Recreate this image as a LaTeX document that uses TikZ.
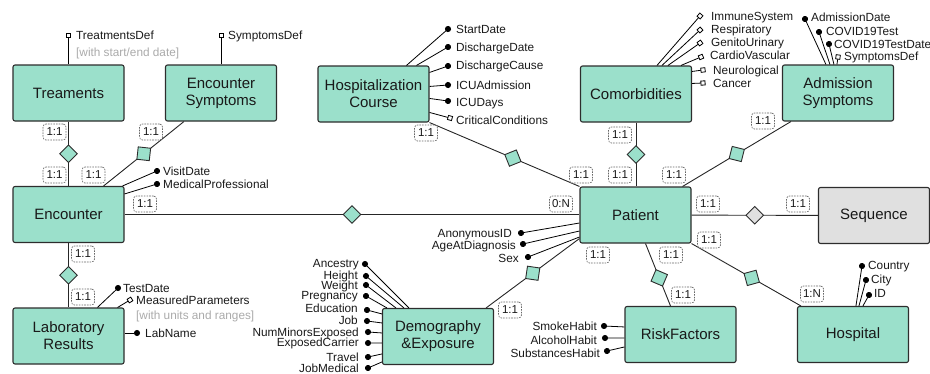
\documentclass[tikz,border=0pt]{standalone}
\usepackage{fontspec}
\setmainfont{Liberation Sans}
\usetikzlibrary{shapes.geometric,arrows.meta,calc}
\definecolor{tealfill}{RGB}{155,224,203}
\definecolor{seqgray}{RGB}{224,224,224}
\definecolor{edgec}{RGB}{45,45,45}
\definecolor{notegray}{RGB}{170,170,170}
\begin{document}
\begin{tikzpicture}[x=1pt,y=-1pt,
  entity/.style={draw=edgec, line width=1.1pt, fill=tealfill, rounded corners=2pt,
    minimum width=111pt, minimum height=56pt, align=center,
    font=\fontsize{15}{17}\selectfont, text=black!90, inner sep=0pt},
  rel/.style={diamond, aspect=1, draw=edgec, line width=0.9pt, fill=tealfill,
    minimum width=18pt, minimum height=18pt, inner sep=0pt, sloped},
  card/.style={draw=black!60, line width=0.65pt, dash pattern=on 1.6pt off 1.1pt, rounded corners=3pt,
    fill=white, font=\fontsize{11.5}{13}\selectfont, minimum width=23pt,
    minimum height=16pt, inner sep=1pt, text=black!90},
  conn/.style={draw=black!85, line width=0.9pt},
  attr/.style={font=\fontsize{11.8}{13}\selectfont, inner sep=0pt, text height=8.5pt,
    text depth=0pt, text=black!90},
  note/.style={attr, text=notegray},
  dotline/.style={draw=black, line width=0.8pt, -{Circle[length=6pt]}, shorten >=-3pt},
  sqline/.style={draw=black, line width=0.8pt, -{Square[length=5pt,width=5pt,fill=white]}, shorten >=-2.5pt},
]
\useasboundingbox (0,0) rectangle (930,373);

% ---------------- entities
\node[entity] (treat) at (68.5,93) {Treaments};
\node[entity] (esym) at (221,93) {Encounter\\Symptoms};
\node[entity] (enc) at (68.5,214.5) {Encounter};
\node[entity] (lab) at (68.5,336) {Laboratory\\Results};
\node[entity] (hc) at (373.5,94) {Hospitalization\\Course};
\node[entity] (com) at (636,94) {Comorbidities};
\node[entity] (adm) at (838,93) {Admission\\Symptoms};
\node[entity] (pat) at (635.5,215) {Patient};
\node[entity, fill=seqgray] (seq) at (874,215.5) {Sequence};
\node[entity] (demo) at (438,336.5) {Demography\\\&Exposure};
\node[entity] (rf) at (680.5,334.5) {RiskFactors};
\node[entity] (hosp) at (853,334.5) {Hospital};

% ---------------- relationships
\draw[conn] (treat) -- node[rel] (r1) {} (enc);
\draw[conn] ($(esym.south west)+(19,0)$) -- node[rel] (r2) {} ($(enc.north east)+(-21,0)$);
\draw[conn] (enc.east) -- node[rel] (r3) {} (enc.east -| pat.west);
\draw[conn] (enc) -- node[rel] (r4) {} (lab);
\draw[conn] (hc.south east) -- node[rel,pos=0.556] (r5) {} (pat.north west);
\draw[conn] (com.south) -- node[rel] (r6) {} (com.south |- pat.north);
\draw[conn] ($(adm.south west)+(9,0)$) -- node[rel] (r7) {} ($(pat.north east)+(-9,0)$);
\draw[conn] (pat) -- node[rel, fill=seqgray] (r8) {} (seq);
\draw[conn] ($(pat.south)+(10,0)$) -- node[rel,pos=0.55] (r9) {} ($(rf.north)+(-10,0)$);
\draw[conn] (pat.south east) -- node[rel,pos=0.55] (r10) {} ($(hosp.north west)+(4,0)$);
\draw[conn] ($(pat.south west)+(0,-5)$) -- node[rel,pos=0.5] (r11) {} ($(demo.north east)+(-8,0)$);

% ---------------- cardinalities
\node[card] (c1) at (54.5,132) {1:1};
\node[card] (c2) at (54.5,175) {1:1};
\node[card] (c3) at (93.5,175) {1:1};
\node[card] (c4) at (151,132) {1:1};
\node[card] (c5) at (145,204) {1:1};
\node[card] (c6) at (561,204) {0:N};
\node[card] (c7) at (83,254) {1:1};
\node[card] (c8) at (83,297) {1:1};
\node[card] (c9) at (426,133) {1:1};
\node[card] (c10) at (581,175) {1:1};
\node[card] (c11) at (620,135) {1:1};
\node[card] (c12) at (620,175) {1:1};
\node[card] (c13) at (674,175) {1:1};
\node[card] (c14) at (763,121) {1:1};
\node[card] (c15) at (708,204) {1:1};
\node[card] (c16) at (798,204) {1:1};
\node[card] (c17) at (709,240) {1:1};
\node[card] (c18) at (812,294) {1:N};
\node[card] (c19) at (671,255) {1:1};
\node[card] (c20) at (683,295) {1:1};
\node[card] (c21) at (598,255) {1:1};
\node[card] (c22) at (510,310) {1:1};

% ---------------- attributes: Treaments
\coordinate (mTD) at (68.5,35);
\draw[sqline] (treat.north) -- (mTD);
\node[attr, anchor=west] (aTD) at (76,35) {TreatmentsDef};
\node[note, anchor=west] (nTD) at (76,52) {[with start/end date]};
% Encounter Symptoms
\coordinate (mSD) at (221,35);
\draw[sqline] (esym.north) -- (mSD);
\node[attr, anchor=west] (aSD) at (228,35) {SymptomsDef};
% Encounter
\coordinate (mVD) at (157,171);
\draw[dotline] ($(enc.north east)+(-2,0)$) -- (mVD);
\node[attr, anchor=west] (aVD) at (163,171) {VisitDate};
\coordinate (mMP) at (157,184);
\draw[dotline] ($(enc.north east)+(0,8)$) -- (mMP);
\node[attr, anchor=west] (aMP) at (163,184) {MedicalProfessional};
% Laboratory
\coordinate (mTDate) at (118,288);
\draw[dotline] ($(lab.north west)+(85,0)$) -- (mTDate);
\node[attr, anchor=west] (aTDate) at (123,288) {TestDate};
\coordinate (mMPar) at (130,300);
\draw[sqline] ($(lab.north east)+(-7,0)$) -- (mMPar);
\node[attr, anchor=west] (aMPar) at (136,300) {MeasuredParameters};
\node[note, anchor=west] (nMPar) at (136,315) {[with units and ranges]};
\coordinate (mLN) at (137,333);
\draw[dotline] ($(lab.east)+(0,-3)$) -- (mLN);
\node[attr, anchor=west] (aLN) at (145,333) {LabName};
% Hospitalization Course
\coordinate (mH1) at (448,29);
\draw[dotline] ($(hc.north west)+(89,0)$) -- (mH1);
\node[attr, anchor=west] (aH1) at (456,29) {StartDate};
\coordinate (mH2) at (448,47);
\draw[dotline] ($(hc.north west)+(99,0)$) -- (mH2);
\node[attr, anchor=west] (aH2) at (456,47) {DischargeDate};
\coordinate (mH3) at (448,66);
\draw[dotline] ($(hc.north east)+(0,7)$) -- (mH3);
\node[attr, anchor=west] (aH3) at (456,65) {DischargeCause};
\coordinate (mH4) at (448,85);
\draw[dotline] ($(hc.north east)+(0,21)$) -- (mH4);
\node[attr, anchor=west] (aH4) at (456,85) {ICUAdmission};
\coordinate (mH5) at (448,101);
\draw[dotline] ($(hc.north east)+(0,33)$) -- (mH5);
\node[attr, anchor=west] (aH5) at (456,102) {ICUDays};
\coordinate (mH6) at (450,118);
\draw[sqline] ($(hc.north east)+(0,47)$) -- (mH6);
\node[attr, anchor=west] (aH6) at (456,120) {CriticalConditions};
% Comorbidities
\coordinate (mC1) at (700,16);
\draw[sqline] ($(com.north west)+(77,0)$) -- (mC1);
\node[attr, anchor=west] (aC1) at (711,16) {ImmuneSystem};
\coordinate (mC2) at (700,30);
\draw[sqline] ($(com.north west)+(82,0)$) -- (mC2);
\node[attr, anchor=west] (aC2) at (711,29) {Respiratory};
\coordinate (mC3) at (700,43);
\draw[sqline] ($(com.north west)+(88,0)$) -- (mC3);
\node[attr, anchor=west] (aC3) at (711,42) {GenitoUrinary};
\coordinate (mC4) at (701,57);
\draw[sqline] ($(com.north west)+(101,0)$) -- (mC4);
\node[attr, anchor=west] (aC4) at (710,55) {CardioVascular};
\coordinate (mC5) at (703,70);
\draw[sqline] ($(com.north east)+(0,6)$) -- (mC5);
\node[attr, anchor=west] (aC5) at (713,70) {Neurological};
\coordinate (mC6) at (703,83);
\draw[sqline] ($(com.north east)+(0,18)$) -- (mC6);
\node[attr, anchor=west] (aC6) at (713,83) {Cancer};
% Admission Symptoms
\coordinate (mA1) at (805,19);
\draw[dotline] ($(adm.north west)+(44,0)$) -- (mA1);
\node[attr, anchor=west] (aA1) at (811,17) {AdmissionDate};
\coordinate (mA2) at (819,32);
\draw[dotline] ($(adm.north west)+(48,0)$) -- (mA2);
\node[attr, anchor=west] (aA2) at (826,31) {COVID19Test};
\coordinate (mA3) at (829,44);
\draw[dotline] ($(adm.north west)+(52,0)$) -- (mA3);
\node[attr, anchor=west] (aA3) at (834,44) {COVID19TestDate};
\coordinate (mA4) at (838,57);
\draw[sqline] ($(adm.north west)+(55,0)$) -- (mA4);
\node[attr, anchor=west] (aA4) at (844,56) {SymptomsDef};
% Patient
\coordinate (mP1) at (521,233);
\draw[dotline] ($(pat.west)+(0,8)$) -- (mP1);
\node[attr, anchor=east] (aP1) at (512,233) {AnonymousID};
\coordinate (mP2) at (523,244);
\draw[dotline] ($(pat.west)+(0,16)$) -- (mP2);
\node[attr, anchor=east] (aP2) at (516,245) {AgeAtDiagnosis};
\coordinate (mP3) at (528,257);
\draw[dotline] ($(pat.west)+(0,22)$) -- (mP3);
\node[attr, anchor=east] (aP3) at (519,258) {Sex};
% Demography
\coordinate (mD1) at (365,264);
\draw[dotline] ($(demo.north west)+(27,0)$) -- (mD1);
\node[attr, anchor=east] (aD1) at (359,263) {Ancestry};
\coordinate (mD2) at (366,276);
\draw[dotline] ($(demo.north west)+(22,0)$) -- (mD2);
\node[attr, anchor=east] (aD2) at (358,275) {Height};
\coordinate (mD3) at (366,285);
\draw[dotline] ($(demo.north west)+(14,0)$) -- (mD3);
\node[attr, anchor=east] (aD3) at (358,285) {Weight};
\coordinate (mD4) at (366,296);
\draw[dotline] ($(demo.north west)+(5,0)$) -- (mD4);
\node[attr, anchor=east] (aD4) at (358,295) {Pregnancy};
\coordinate (mD5) at (367,310);
\draw[dotline] ($(demo.north west)+(0,6)$) -- (mD5);
\node[attr, anchor=east] (aD5) at (358,308) {Education};
\coordinate (mD6) at (367,321);
\draw[dotline] ($(demo.north west)+(0,15)$) -- (mD6);
\node[attr, anchor=east] (aD6) at (358,320) {Job};
\coordinate (mD7) at (368,332);
\draw[dotline] ($(demo.north west)+(0,25)$) -- (mD7);
\node[attr, anchor=east] (aD7) at (359,332) {NumMinorsExposed};
\coordinate (mD8) at (368,343);
\draw[dotline] ($(demo.north west)+(0,35)$) -- (mD8);
\node[attr, anchor=east] (aD8) at (359,342) {ExposedCarrier};
\coordinate (mD9) at (368,357);
\draw[dotline] ($(demo.north west)+(0,46)$) -- (mD9);
\node[attr, anchor=east] (aD9) at (359,357) {Travel};
\coordinate (mD10) at (368,368);
\draw[dotline] ($(demo.north west)+(0,54)$) -- (mD10);
\node[attr, anchor=east] (aD10) at (359,368) {JobMedical};
% RiskFactors
\coordinate (mR1) at (604,326);
\draw[dotline] ($(rf.north west)+(0,21)$) -- (mR1);
\node[attr, anchor=east] (aR1) at (597,326) {SmokeHabit};
\coordinate (mR2) at (605,338);
\draw[dotline] ($(rf.north west)+(0,32)$) -- (mR2);
\node[attr, anchor=east] (aR2) at (597,340) {AlcoholHabit};
\coordinate (mR3) at (607,351);
\draw[dotline] ($(rf.north west)+(0,41)$) -- (mR3);
\node[attr, anchor=east] (aR3) at (600,353) {SubstancesHabit};
% Hospital
\coordinate (mO1) at (862,266);
\draw[dotline] ($(hosp.north west)+(59,0)$) -- (mO1);
\node[attr, anchor=west] (aO1) at (868,265) {Country};
\coordinate (mO2) at (866,280);
\draw[dotline] ($(hosp.north west)+(62,0)$) -- (mO2);
\node[attr, anchor=west] (aO2) at (871,279) {City};
\coordinate (mO3) at (869,295);
\draw[dotline] ($(hosp.north west)+(66,0)$) -- (mO3);
\node[attr, anchor=west] (aO3) at (874,293) {ID};
\end{tikzpicture}
\end{document}
